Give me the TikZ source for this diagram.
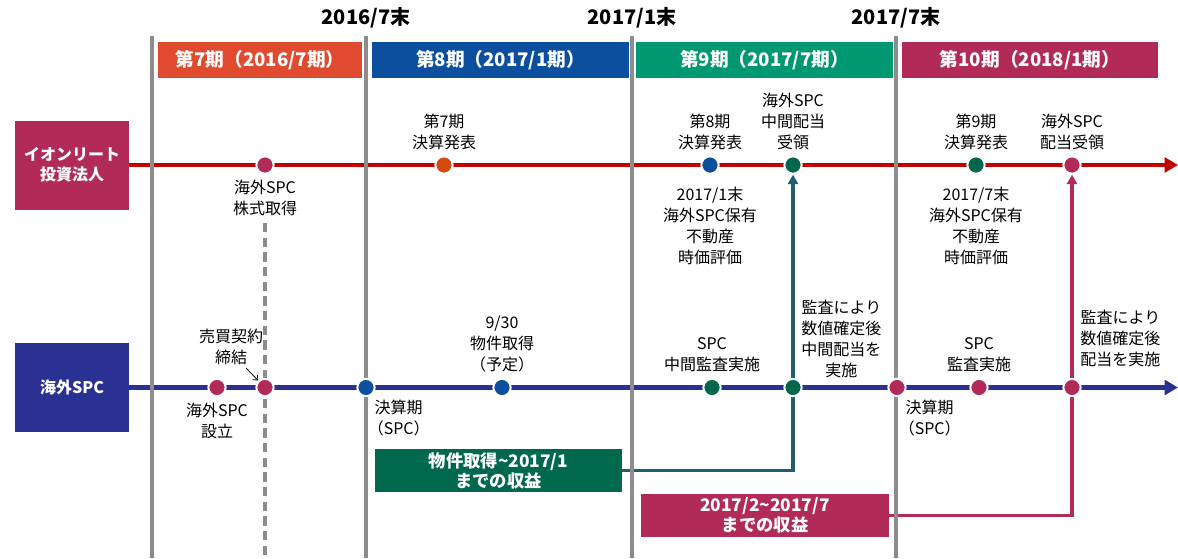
\documentclass[tikz,border=0pt]{standalone}
\usepackage{fontspec}
\setmainfont{Noto Sans CJK JP}
\usetikzlibrary{positioning}
\usetikzlibrary{calc}
\usetikzlibrary{arrows.meta}
\definecolor{reit colour}{HTML}{B22B58}
\definecolor{spc colour}{HTML}{2B3192}
\definecolor{red line colour}{HTML}{C00000}
\definecolor{first colour}{HTML}{E04A2F}
\definecolor{second colour}{HTML}{0C4F9F}
\definecolor{third colour}{HTML}{009870}
\definecolor{event orange}{HTML}{D44A0E}
\definecolor{event green}{HTML}{00664C}
\definecolor{income green}{HTML}{00694D}
\definecolor{feed colour}{HTML}{215E6E}
\colorlet{divider colour}{black!45}
\tikzset{
    % Arrow tips for the time axes
    >=Triangle,
%
    % Fills for the two parties
    reit fill/.style={fill=reit colour},
    spc fill/.style={fill=spc colour},
    % Lines
    timeline/.style={line width=3.6pt, -{Triangle[length=10pt, width=11pt]}},
    divider/.style={color=divider colour, line width=2.6pt},
%
    % Centre aligned text everywhere
    every node/.style={align=center},
}
\pgfdeclarelayer{background}
\pgfsetlayers{background,main}

\begin{document}
\begin{tikzpicture}[
    x=0.75pt, y=-0.75pt,
    period/.style={text=white, font=\bfseries\fontsize{14}{16}\selectfont,
        minimum width=#1, minimum height=27pt, inner sep=0},
    party/.style={text=white, font=\bfseries\fontsize{12}{15}\selectfont,
        minimum width=85.5pt, minimum height=66.75pt, inner sep=0},
    income/.style={text=white, font=\bfseries\fontsize{13}{15}\selectfont,
        minimum width=#1, minimum height=32.25pt, inner sep=0},
    milestone/.style={circle, fill=#1, draw=white, line width=1.5pt,
        minimum size=13pt, inner sep=0},
    note/.style={font=\fontsize{12}{15.75}\selectfont, inner sep=1pt},
    date/.style={font=\bfseries\fontsize{15}{18}\selectfont},
    feed/.style={line width=2.6pt, -{Triangle[length=7pt, width=7.5pt]}},
    pointer/.style={semithick, black, -{Straight Barb[length=3pt, width=5pt]}},
]
\useasboundingbox (0,0) rectangle (1178,558);

% Dates above the dividers
\path
    (366,18) node (date 1) [date] {2016/7末}
    (632,18) node (date 2) [date] {2017/1末}
    (896,18) node (date 3) [date] {2017/7末};

% Fiscal periods
\path
    (260,60) node (period 7) [period=153pt, fill=first colour] {第7期（2016/7期）}
    (500.5,60) node (period 8) [period=192.75pt, fill=second colour] {第8期（2017/1期）}
    (764.5,60) node (period 9) [period=192.75pt, fill=third colour] {第9期（2017/7期）}
    (1030,60) node (period 10) [period=192pt, fill=reit colour] {第10期（2018/1期）};

\node (reit) [party, reit fill] at (72,165) {イオンリート\\投資法人};
\node (spc) [party, spc fill] at (72,387.5) {海外SPC};
\coordinate (reit end) at (1178,165);
\coordinate (spc end) at (1178,387.5);

% Events of the REIT
\path
    (265,165) node (reit acquire) [milestone=reit colour] {}
    (444,165) node (reit result 7) [milestone=event orange] {}
    (710,165) node (reit result 8) [milestone=second colour] {}
    (793,165) node (reit interim) [milestone=event green] {}
    (976,165) node (reit result 9) [milestone=event green] {}
    (1072,165) node (reit dividend) [milestone=reit colour] {};

% Events of the SPC
\path
    (217,387.5) node (spc setup) [milestone=reit colour] {}
    (265,387.5) node (spc contract) [milestone=reit colour] {}
    (366,387.5) node (spc close 1) [milestone=second colour] {}
    (502,387.5) node (spc purchase) [milestone=second colour] {}
    (712,387.5) node (spc interim audit) [milestone=event green] {}
    (793,387.5) node (spc interim pay) [milestone=event green] {}
    (897,387.5) node (spc close 2) [milestone=reit colour] {}
    (979,387.5) node (spc audit) [milestone=reit colour] {}
    (1072,387.5) node (spc pay) [milestone=reit colour] {};

\node (acquire label) [note, below=3pt of reit acquire] {海外SPC\\株式取得};
\node (result 7 label) [note, above=3pt of reit result 7] {第7期\\決算発表};
\node (result 8 label) [note, above=3pt of reit result 8] {第8期\\決算発表};
\node (value 8 label) [note, below=8pt of reit result 8]
    {2017/1末\\海外SPC保有\\不動産\\時価評価};
\node (interim label) [note, above=3pt of reit interim] {海外SPC\\中間配当\\受領};
\node (result 9 label) [note, above=3pt of reit result 9] {第9期\\決算発表};
\node (value 9 label) [note, below=8pt of reit result 9]
    {2017/7末\\海外SPC保有\\不動産\\時価評価};
\node (dividend label) [note, above=3pt of reit dividend] {海外SPC\\配当受領};

\node (setup label) [note, below=3pt of spc setup] {海外SPC\\設立};
\node (contract label) [note, above left=11pt and -5pt of spc contract] {売買契約\\締結};
\node (close 1 label) [note, below right=3pt and -5pt of spc close 1] {決算期\\（SPC）};
\node (purchase label) [note, above=3pt of spc purchase] {9/30\\物件取得\\（予定）};
\node (interim audit label) [note, above=3pt of spc interim audit] {SPC\\中間監査実施};
\node (interim pay label) [note, above right=1pt and 0pt of spc interim pay]
    {監査により\\数値確定後\\中間配当を\\実施};
\node (close 2 label) [note, below right=3pt and -5pt of spc close 2] {決算期\\（SPC）};
\node (audit label) [note, above=3pt of spc audit] {SPC\\監査実施};
\node (pay label) [note, above right=9pt and 0pt of spc pay]
    {監査により\\数値確定後\\配当を実施};

% Earnings passed up to the REIT
\node (income 1) [income=185.25pt, fill=income green] at (498.5,470.5)
    {物件取得\textasciitilde 2017/1\\までの収益};
\node (income 2) [income=186pt, fill=reit colour] at (765,515.5)
    {2017/2\textasciitilde 2017/7\\までの収益};

\coordinate (contract tail) at (246,368);
\draw [pointer] (contract tail) -- (spc contract);

\begin{pgfonlayer}{background}
    \draw [timeline, red line colour] (reit) -- (reit end);
    \draw [timeline, spc colour] (spc) -- (spc end);
    \draw [feed, feed colour] (income 1) -| (reit interim);
    \draw [feed, reit colour] (income 2) -| (reit dividend);
    \foreach \x in {152,366,632,896}
        \draw [divider] (\x,36) -- (\x,558);
    \draw [divider, dash pattern=on 7pt off 4pt] (265,223) -- (265,558);
\end{pgfonlayer}

\end{tikzpicture}
\end{document}
